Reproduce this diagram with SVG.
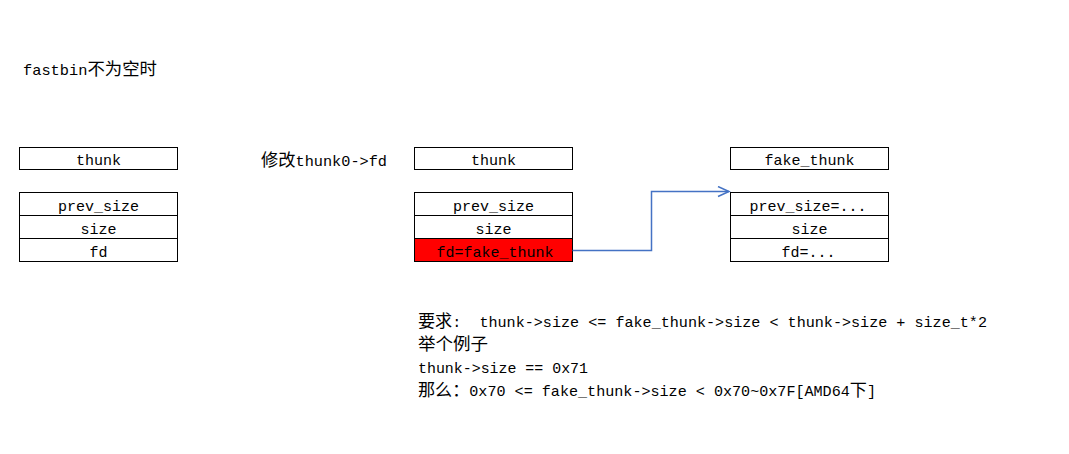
<svg xmlns="http://www.w3.org/2000/svg" width="1069" height="454" viewBox="0 0 1069 454">
<defs>
<style>
text{font-family:"Liberation Mono","Noto Sans CJK SC",monospace;font-size:15px;fill:#000}
.cjk{font-family:"Noto Sans CJK SC",sans-serif;font-size:17px}
.c{text-anchor:middle}
rect{fill:#fff;stroke:#000;stroke-width:1}
.red{fill:#ff0000}
</style>
<marker id="ah" markerWidth="14" markerHeight="12" refX="12" refY="6" orient="auto" markerUnits="userSpaceOnUse">
<path d="M1,1 L12,6 L1,11" fill="none" stroke="#4472c4" stroke-width="1.5"/>
</marker>
</defs>
<rect x="0" y="0" width="1069" height="454" style="fill:#fff;stroke:none"/>
<text id="title" x="23" y="75" textLength="134" lengthAdjust="spacingAndGlyphs">fastbin<tspan class="cjk">不为空时</tspan></text>
<text id="label-modify" x="261" y="166" textLength="126" lengthAdjust="spacingAndGlyphs"><tspan class="cjk">修改</tspan>thunk0-&gt;fd</text>
<g id="chunk-left">
<rect x="19.5" y="147.5" width="158" height="22"/>
<text class="c" x="98.5" y="165">thunk</text>
<rect x="19.5" y="192.5" width="158" height="23"/>
<rect x="19.5" y="215.5" width="158" height="23"/>
<rect x="19.5" y="238.5" width="158" height="23"/>
<text class="c" x="98.5" y="211">prev_size</text>
<text class="c" x="98.5" y="234">size</text>
<text class="c" x="98.5" y="257">fd</text>
</g>
<g id="chunk-mid">
<rect x="414.5" y="147.5" width="158" height="22"/>
<text class="c" x="493.5" y="165">thunk</text>
<rect x="414.5" y="192.5" width="158" height="23"/>
<rect x="414.5" y="215.5" width="158" height="23"/>
<rect class="red" x="414.5" y="238.5" width="158" height="23"/>
<text class="c" x="493.5" y="211">prev_size</text>
<text class="c" x="493.5" y="234">size</text>
<text class="c" x="495" y="257">fd=fake_thunk</text>
</g>
<g id="chunk-fake">
<rect x="730.5" y="147.5" width="158" height="22"/>
<text class="c" x="809.5" y="165">fake_thunk</text>
<rect x="730.5" y="192.5" width="158" height="23"/>
<rect x="730.5" y="215.5" width="158" height="23"/>
<rect x="730.5" y="238.5" width="158" height="23"/>
<text class="c" x="808" y="211">prev_size=...</text>
<text class="c" x="809.5" y="234">size</text>
<text class="c" x="808.5" y="257">fd=...</text>
</g>
<g id="connectors">
<path d="M572.5,250.5 H651.5 V191.5 H729" fill="none" stroke="#4472c4" stroke-width="1.5" marker-end="url(#ah)"/>
</g>
<g id="notes">
<text x="418" y="327" textLength="569" lengthAdjust="spacingAndGlyphs" xml:space="preserve"><tspan class="cjk">要求</tspan>:  thunk-&gt;size &lt;= fake_thunk-&gt;size &lt; thunk-&gt;size + size_t*2</text>
<text x="418" y="350" textLength="70" lengthAdjust="spacingAndGlyphs"><tspan class="cjk">举个例子</tspan></text>
<text x="418" y="373" textLength="170" lengthAdjust="spacingAndGlyphs">thunk-&gt;size == 0x71</text>
<text x="418" y="396" textLength="458" lengthAdjust="spacingAndGlyphs"><tspan class="cjk">那么：</tspan>0x70 &lt;= fake_thunk-&gt;size &lt; 0x70~0x7F[AMD64<tspan class="cjk">下</tspan>]</text>
</g>
</svg>
